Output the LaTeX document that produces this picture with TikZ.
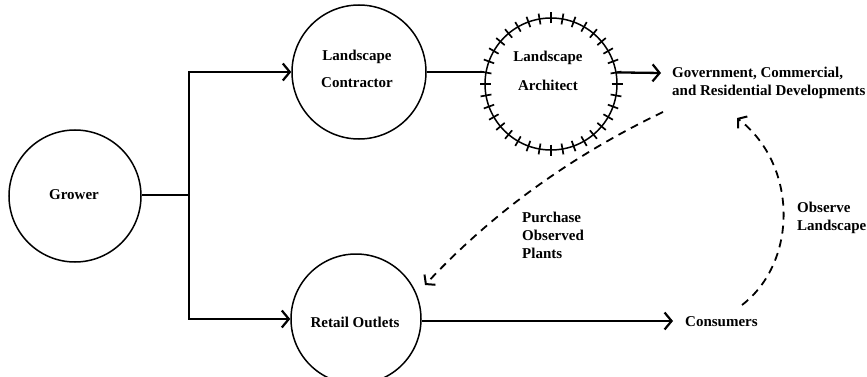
\documentclass[tikz,border=0pt]{standalone}
\usepackage{fontspec}
\setmainfont{Liberation Serif}
\usetikzlibrary{arrows.meta}
\tikzset{
  circ/.style={draw, circle, line width=1.5pt, minimum size=#1, inner sep=0pt},
  lbl/.style={font=\bfseries\fontsize{15}{18}\selectfont, inner sep=0pt},
  tip/.style={-{Straight Barb[length=7pt,width=17pt,line width=2.2pt]}},
  flow/.style={line width=2.3pt, tip},
  plain/.style={line width=2.3pt},
  dflow/.style={line width=1.8pt, dash pattern=on 8pt off 6pt, -{Straight Barb[length=6pt,width=15pt,line width=2pt]}}
}
\begin{document}
\begin{tikzpicture}[x=1pt,y=-1pt]
\useasboundingbox (0,0) rectangle (867,377);
% circles
\node[circ=132pt] (grower) at (75,196) {};
\node[circ=134pt] (contractor) at (359,72) {};
\node[circ=132pt] (architect) at (551,84) {};
\node[circ=130pt] (retail) at (356,319) {};
% ticks on architect
\foreach \a in {0,10,...,350}
  \draw[line width=1.7pt] (architect.center) ++(\a:-60.5) -- ++(\a:-11);
% texts
\node[lbl] (growert) at (74,195) {Grower};
\node[lbl, align=center] (contractort) at (357,69) {Landscape\\[9pt]Contractor};
\node[lbl, align=center] (architectt) at (548,71) {Landscape\\[11pt]Architect};
\node[lbl] (retailt) at (355,322) {Retail Outlets};
\node[lbl, align=left, anchor=west] (gov) at (672,83) {Government, Commercial,\\and Residential Developments};
\node[lbl, anchor=west] (consumers) at (685,322) {Consumers};
\node[lbl, align=left, anchor=north west] (purchase) at (522,212) {Purchase\\Observed\\Plants};
\node[lbl, align=left, anchor=north west] (observe) at (797,202) {Observe\\Landscape};
% connectors
\coordinate (j) at (189,195);
\draw[plain] (grower.east |- j) -- (j);
\draw[flow] (j) |- (contractor);
\draw[flow] (j) |- (retail.west);
\draw[plain] (contractor.east) -- (contractor.east -| architect.west);
\coordinate (govin) at (661,73);
\draw[flow] (architect.10) -- (govin);
\coordinate (consin) at (673,321);
\draw[flow] (retail.east |- consin) -- (consin);
\coordinate (obsstart) at (742,305);
\coordinate (obsend) at (737,118);
\draw[dflow] (obsstart) .. controls (798,262) and (798,165) .. (obsend);
\coordinate (purstart) at (663,112);
\coordinate (purend) at (425,285);
\draw[dflow] (purstart) .. controls (573,155) and (493,212) .. (purend);
\end{tikzpicture}
\end{document}
